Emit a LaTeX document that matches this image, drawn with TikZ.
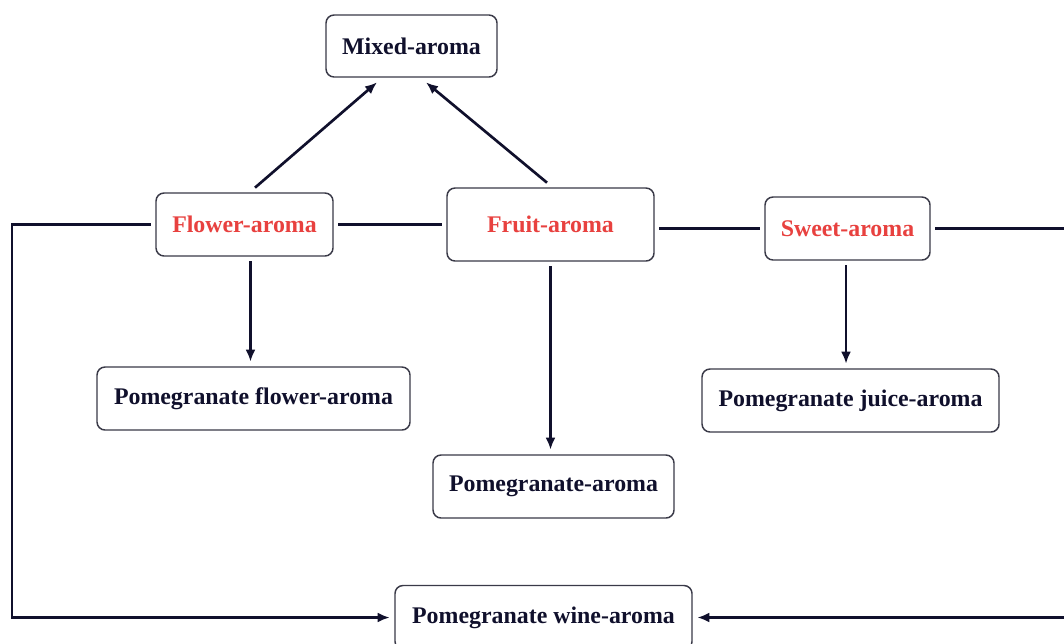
\documentclass[tikz,border=0pt]{standalone}
\usepackage{fontspec}
\setmainfont{Liberation Serif}
\usetikzlibrary{arrows.meta,calc}
\definecolor{navy}{HTML}{10102C}
\definecolor{boxline}{HTML}{3A3A48}
\definecolor{aromared}{HTML}{E8413F}
\begin{document}
\begin{tikzpicture}[x=0.75pt,y=-0.75pt,
  box/.style={draw=boxline,line width=1.1pt,rounded corners=6pt,fill=white,
    font=\fontsize{17.9}{21}\selectfont\bfseries,text=navy,outer sep=4pt,
    minimum height=47.25pt,inner sep=2pt},
  redbox/.style={box,text=aromared},
  conn/.style={draw=navy,line width=2pt},
  arr/.style={conn,-{Latex[length=9pt,width=7.5pt]}}]
\clip (0,0) rectangle (1064,643);
\fill[white] (0,0) rectangle (1064,643);
\node[box,minimum width=128.25pt,minimum height=46.5pt] (mx) at (411.5,46) {Mixed-aroma};
\node[redbox,minimum width=132.75pt] (fl) at (244.5,224.5) {Flower-aroma};
\node[redbox,minimum width=155.25pt,minimum height=54.75pt] (fr) at (550.5,224.5) {Fruit-aroma};
\node[redbox,minimum width=123.75pt] (sw) at (847.5,228.5) {Sweet-aroma};
\node[box,minimum width=234.75pt] (pf) at (253.5,398.5) {Pomegranate flower-aroma};
\node[box,minimum width=180.75pt] (pa) at (553.5,486.5) {Pomegranate-aroma};
\node[box,minimum width=222.75pt] (pj) at (850.5,400.5) {Pomegranate juice-aroma};
\node[box,minimum width=222.75pt,minimum height=48pt] (pw) at (543.5,617.5) {Pomegranate wine-aroma};
\coordinate (lc) at (12,224.5);
\coordinate (rc) at (1080,228.5);
\coordinate (fls) at ($(fl.south)+(6,0)$);
\coordinate (sws) at ($(sw.south)+(-1.5,0)$);
\coordinate (fln) at ($(fl.north)+(10.5,0)$);
\coordinate (frn) at ($(fr.north)+(-3.5,0)$);
\coordinate (mxl) at ($(mx.south)+(-34.5,0)$);
\coordinate (mxr) at ($(mx.south)+(14.5,0)$);
% to mixed
\draw[arr] (fln) -- (mxl);
\draw[arr] (frn) -- (mxr);
% horizontal links
\draw[conn] (fl.east) -- (fr.west);
\draw[conn] (fr.east |- sw.west) -- (sw.west);
% downward arrows
\draw[arr] (fls) -- (fls |- pf.north);
\draw[arr] (fr.south) -- (fr.south |- pa.north);
\draw[arr] (sws) -- (sws |- pj.north);
% to wine
\draw[arr,line join=miter] (fl.west) -- (lc) |- (pw.west);
\draw[arr,line join=miter] (sw.east) -- (rc) |- (pw.east);
\end{tikzpicture}
\end{document}
